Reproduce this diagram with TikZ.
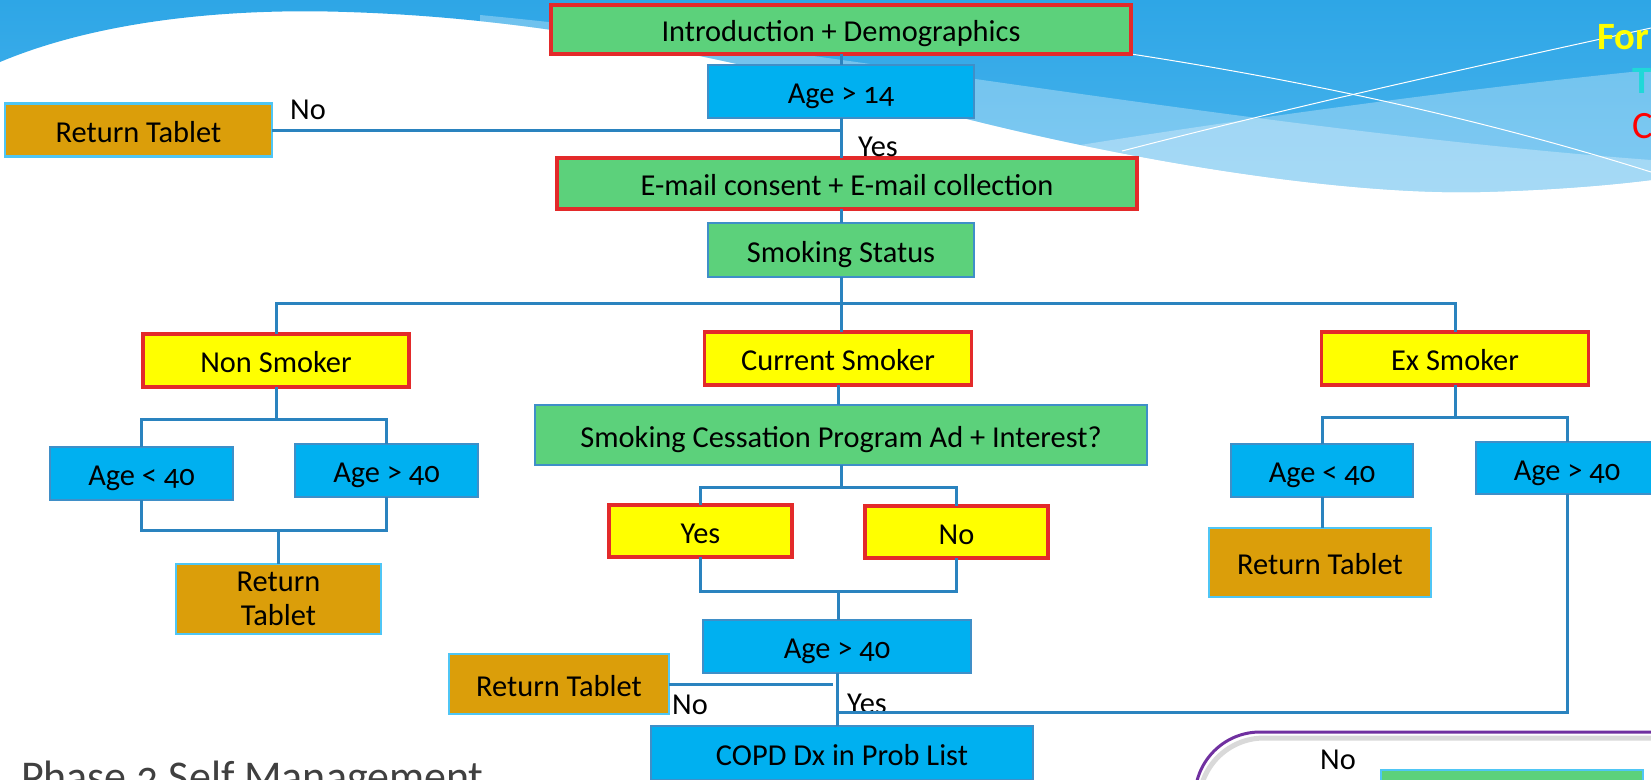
\documentclass[tikz,border=0pt]{standalone}
\usepackage{fontspec}
\setmainfont{Carlito}[Numbers=OldStyle]
\usepackage{xcolor}
\usetikzlibrary{positioning,calc}
\definecolor{boxgreen}{HTML}{5CD17B}
\definecolor{boxblue}{HTML}{00B0F0}
\definecolor{boxyellow}{HTML}{FFFF00}
\definecolor{boxgold}{HTML}{DB9E0A}
\definecolor{edgered}{HTML}{E32A2A}
\definecolor{edgeblue}{HTML}{3F8FC8}
\definecolor{edgelight}{HTML}{4FC6F5}
\definecolor{linkblue}{HTML}{2A83BF}
\definecolor{skydark}{HTML}{2EA6E6}
\definecolor{skymid}{HTML}{4AB4ED}
\definecolor{titlegray}{HTML}{404040}
\definecolor{purpleedge}{HTML}{7030A0}
\definecolor{tealtext}{HTML}{20D8D8}
\newcommand\boxfont{\fontsize{17.3}{19.5}\selectfont}
\newcommand\skyline{(0,0) -- (1651,0) -- (1651,180) .. controls (1620,184) and (1560,190) .. (1480,192) .. controls (1350,195) and (1150,165) .. (963,118) .. controls (800,80) and (600,20) .. (347,12) .. controls (230,8) and (100,20) .. (0,62) -- cycle}

\begin{document}
\begin{tikzpicture}[x=0.02cm,y=-0.02cm,
  every node/.style={inner sep=0pt,outer sep=0pt,font=\boxfont,align=center},
  onerow/.style={text height=18pt,text depth=4pt,minimum height=1.06cm},
  greenred/.style={onerow,fill=boxgreen,draw=edgered,line width=0.065cm},
  yellowred/.style={onerow,fill=boxyellow,draw=edgered,line width=0.065cm},
  greenblue/.style={onerow,fill=boxgreen,draw=edgeblue,line width=0.04cm},
  bluebox/.style={onerow,fill=boxblue,draw=edgeblue,line width=0.04cm},
  goldbox/.style={onerow,fill=boxgold,draw=edgelight,line width=0.045cm},
  link/.style={draw=linkblue,line width=0.06cm}]
  \path[use as bounding box,clip] (0,0) rectangle (1651,779);
  \fill[white] (0,0) rectangle (1651,779);
  % sky
  \shade[top color=skydark,bottom color=skymid] \skyline;
  \begin{scope}
    \clip \skyline;
    \fill[white,opacity=0.3] (480,15) .. controls (800,45) and (1250,130) .. (1651,160) -- (1651,300) -- (480,300) -- cycle;
    \fill[white,opacity=0.3] (1050,150) .. controls (1200,125) and (1450,90) .. (1651,70) -- (1651,300) -- (1050,300) -- cycle;
  \end{scope}
  \draw[white,line width=0.02cm] (1131,54) .. controls (1300,80) and (1480,118) .. (1651,172);
  \draw[white,line width=0.02cm] (1122,151) .. controls (1300,105) and (1450,72) .. (1651,28);
  \node[anchor=west,font=\fontsize{22}{26}\selectfont\bfseries,text=boxyellow] (forT) at (1597,37.5) {For};
  \node[anchor=west,font=\fontsize{22}{26}\selectfont\bfseries,text=tealtext] (tT) at (1632,81) {T};
  \node[anchor=west,font=\fontsize{22}{26}\selectfont,text=red] (cT) at (1632,126) {C};

  % top
  \node[greenred,minimum width=11.6cm,minimum height=0.98cm] (intro) at (841,29.5) {Introduction + Demographics};
  \node[bluebox,minimum width=5.32cm] (ageA) at (841,91.5) {Age > 14};
  \node[goldbox,minimum width=5.34cm] (retA) at (138.5,130) {Return Tablet};
  \node[greenred,minimum width=11.6cm,minimum height=1.02cm] (email) at (847,183.5) {E-mail consent + E-mail collection};
  \node[greenblue,minimum width=5.34cm,minimum height=1.08cm] (status) at (841,250) {Smoking Status};
  \draw[link] (intro) -- (ageA);
  \draw[link] (ageA.south) -- (ageA.south |- email.north);
  \draw[link] (retA) -- (retA -| ageA.south);
  \draw[link] (email.north -| ageA.south) ++(0,51) -- (status);
  \node (noA) at (308,110) {No};
  \node (yesA) at (878,147) {Yes};

  % smoking status
  \node[yellowred,minimum width=5.32cm] (nonS) at (276,360.5) {Non Smoker};
  \node[yellowred,minimum width=5.34cm] (curS) at (838,358.5) {Current Smoker};
  \node[yellowred,minimum width=5.34cm] (exS) at (1455,358.5) {Ex Smoker};
  \coordinate (sBar) at (841,303);
  \draw[link] (status.south) -- (sBar);
  \draw[link] (nonS.north) |- (sBar) -| (exS.north);
  \draw[link] (sBar) -- (sBar |- curS.north);

  % non smoker
  \node[bluebox,minimum width=3.66cm] (nLo) at (141.5,473.5) {Age < 40};
  \node[bluebox,minimum width=3.66cm] (nHi) at (386.5,470.5) {Age > 40};
  \node[goldbox,minimum width=4.1cm,minimum height=1.4cm,text height={},text depth={}] (nRet) at (278.5,599) {Return\\Tablet};
  \coordinate (nBar) at (276,419);
  \coordinate (nJoin) at (278.5,530);
  \draw[link] (nonS) -- (nBar);
  \draw[link] (nLo.north) |- (nBar) -| (nHi.north);
  \draw[link] (nLo.south) |- (nJoin) -| (nHi.south);
  \draw[link] (nJoin) -- (nRet);

  % current smoker
  \node[greenblue,minimum width=12.24cm,minimum height=1.2cm] (ad) at (841,435) {Smoking Cessation Program Ad + Interest?};
  \node[yellowred,minimum width=3.66cm,minimum height=1.04cm] (yes) at (700.5,531) {Yes};
  \node[yellowred,minimum width=3.66cm,minimum height=1.04cm] (no) at (956.5,532) {No};
  \node[bluebox,minimum width=5.36cm] (cAge) at (837,646.5) {Age > 40};
  \node[goldbox,minimum width=4.4cm,minimum height=1.2cm] (cRet) at (559,684) {Return Tablet};
  \node[bluebox,minimum width=7.64cm,minimum height=1.08cm] (copd) at (842,753) {COPD Dx in Prob List};
  \coordinate (aBar) at (841,487);
  \coordinate (aJoin) at (838,591);
  \coordinate (cNo) at (833,684);
  \draw[link] (curS.south) -- (curS.south |- ad.north);
  \draw[link] (ad.south) -- (aBar);
  \draw[link] (yes.north) |- (aBar) -| (no.north);
  \draw[link] (yes.south) |- (aJoin) -| (no.south);
  \draw[link] (aJoin) -- (aJoin |- cAge.north);
  \draw[link] (cAge.south) -- (cAge.south |- copd.north);
  \draw[link] (cRet) -- (cNo);
  \node (noC) at (690,705) {No};
  \node (yesC) at (867,704) {Yes};

  % ex smoker
  \node[bluebox,minimum width=3.64cm] (eLo) at (1322,470.5) {Age < 40};
  \node[bluebox,minimum width=3.64cm,minimum height=1.04cm] (eHi) at (1567,468) {Age > 40};
  \node[goldbox,minimum width=4.44cm,minimum height=1.38cm] (eRet) at (1320,562.5) {Return Tablet};
  \coordinate (eBar) at (1457,417);
  \draw[link] (exS.south) -- (exS.south |- eBar);
  \draw[link] (eLo.north) |- (eBar) -| (eHi.north);
  \draw[link] (eLo.south) -- (eLo.south |- eRet.north);
  \draw[link] (cAge.south |- 0,712) -| (eHi.south);

  % phase 2
  \node[anchor=base west,font=\fontsize{25}{30}\selectfont,text=titlegray] (phase) at (21,791) {Phase 2 Self Management};
  \draw[gray!30,line width=0.1cm,rounded corners=1.3cm] (1199,860) -- (1199,738) -- (1720,738);
  \draw[purpleedge,line width=0.06cm,rounded corners=1.3cm] (1195,860) -- (1195,732) -- (1720,732);
  \node (noD) at (1338,760) {No};
  \node[draw=edgelight,fill=boxgreen,line width=0.04cm,anchor=north west,minimum width=5.24cm,minimum height=1cm] (nextBox) at (1381,770) {};
\end{tikzpicture}
\end{document}
